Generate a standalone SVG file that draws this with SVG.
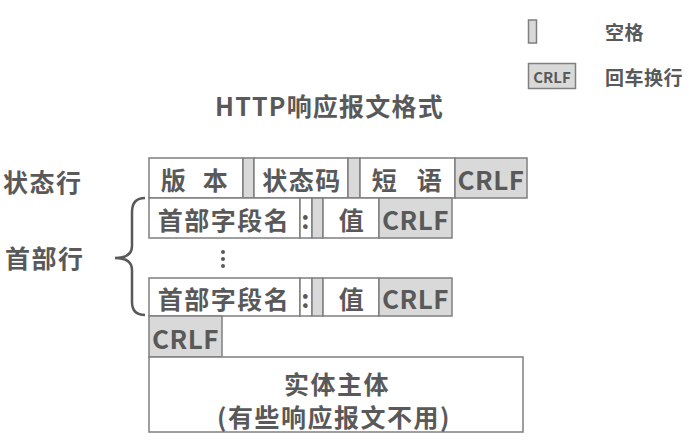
<svg xmlns="http://www.w3.org/2000/svg" width="689" height="443" viewBox="0 0 689 443">
<style>
text{font-family:"Noto Sans CJK SC","Liberation Sans",sans-serif;font-weight:bold;fill:#595959;dominant-baseline:central}
.cn{font-size:25px;letter-spacing:1.5px}
.en{font-size:26px;letter-spacing:0.5px}
.w{fill:#ffffff;stroke:#7f7f7f;stroke-width:1.5}
.g{fill:#d9d9d9;stroke:#7f7f7f;stroke-width:1.5}
.m{text-anchor:middle}
</style>
<rect width="689" height="443" fill="#ffffff"/>
<g id="legend">
<rect class="g" x="528.5" y="20" width="8" height="23"/>
<text x="605" y="31" style="font-size:19px;letter-spacing:0.5px">空格</text>
<rect class="g" x="528.5" y="63.5" width="47" height="25"/>
<text class="m" x="552" y="76.5" style="font-size:15px">CRLF</text>
<text x="605" y="76" style="font-size:19px;letter-spacing:0.5px">回车换行</text>
</g>
<g id="title">
<text x="215" y="105" style="font-size:25px;letter-spacing:1.2px">HTTP响应报文格式</text>
</g>
<g id="labels">
<text class="cn" x="3" y="181">状态行</text>
<text class="cn" x="5" y="257">首部行</text>
</g>
<g id="status-line">
<rect class="w" x="149" y="158" width="94" height="40"/>
<rect class="g" x="243" y="158" width="11" height="40"/>
<rect class="w" x="254" y="158" width="94" height="40"/>
<rect class="g" x="348" y="158" width="12" height="40"/>
<rect class="w" x="360" y="158" width="95" height="40"/>
<rect class="g" x="455" y="158" width="72" height="40"/>
<text class="cn m" x="174 216" y="179">版本</text>
<text class="cn m" x="302" y="179">状态码</text>
<text class="cn m" x="385 430" y="179">短语</text>
<text class="en m" x="491" y="178">CRLF</text>
</g>
<g id="header-line-1">
<rect class="w" x="149" y="198" width="151" height="40"/>
<rect class="w" x="300" y="198" width="12" height="40"/>
<rect class="g" x="312" y="198" width="11" height="40"/>
<rect class="w" x="323" y="198" width="56" height="40"/>
<rect class="g" x="379" y="198" width="73" height="40"/>
<text class="cn m" x="224" y="219">首部字段名</text>
<text class="cn m" x="306" y="218">:</text>
<text class="cn m" x="352" y="219">值</text>
<text class="en m" x="415.5" y="218">CRLF</text>
</g>
<g id="ellipsis">
<circle cx="223" cy="252" r="2" fill="#595959"/>
<circle cx="223" cy="259" r="2" fill="#595959"/>
<circle cx="223" cy="266" r="2" fill="#595959"/>
</g>
<g id="header-line-n">
<rect class="w" x="149" y="278" width="151" height="38"/>
<rect class="w" x="300" y="278" width="12" height="38"/>
<rect class="g" x="312" y="278" width="11" height="38"/>
<rect class="w" x="323" y="278" width="56" height="38"/>
<rect class="g" x="379" y="278" width="73" height="38"/>
<text class="cn m" x="224" y="298">首部字段名</text>
<text class="cn m" x="306" y="297">:</text>
<text class="cn m" x="352" y="298">值</text>
<text class="en m" x="415.5" y="297">CRLF</text>
</g>
<g id="blank-line">
<rect class="g" x="149" y="316" width="73" height="41"/>
<text class="en m" x="185.5" y="337">CRLF</text>
</g>
<g id="entity-body">
<rect class="w" x="149" y="357" width="374" height="75"/>
<text class="cn m" x="337" y="383">实体主体</text>
<text class="cn m" x="334" y="416">(有些响应报文不用)</text>
</g>
<g id="connectors">
<path d="M145,198 Q132,198 132,212 L132,246 Q132,258 115,258 Q132,258 132,270 L132,302 Q132,315 145,315" fill="none" stroke="#595959" stroke-width="2.5"/>
</g>
</svg>
